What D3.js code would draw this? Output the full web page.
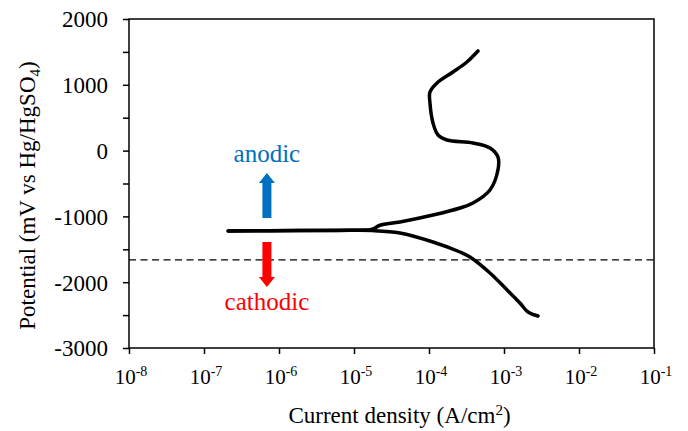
<!DOCTYPE html>
<html>
<head>
<meta charset="utf-8">
<script src="https://cdn.jsdelivr.net/npm/d3@7"></script>
<style>
    body { margin: 0; background: #fff; }
    text { font-family: 'Liberation Serif', 'Times New Roman', serif; fill: #000; }
</style>
</head>
<body>
<div class="chart"></div>
<script>
const width = 688;
const height = 431;
const margin = { top: 19, right: 34, bottom: 83, left: 129 };

/* data */
const xTicks = [1e-8, 1e-7, 1e-6, 1e-5, 1e-4, 1e-3, 1e-2, 1e-1];
const xExponents = ['-8', '-7', '-6', '-5', '-4', '-3', '-2', '-1'];
const yTicks = [2000, 1000, 0, -1000, -2000, -3000];
const yMinorTicks = [1500, 500, -500, -1500, -2500];

// anodic branch (current density A/cm2, potential mV)
const anodicI = [2.1e-7, 1.9e-6, 8.9e-6, 1.74e-5, 2.22e-5, 4.1e-5, 1.13e-4, 2.59e-4, 3.86e-4, 6.5e-4, 8.3e-4,
    8.3e-4, 6.5e-4, 3.86e-4, 1.74e-4, 1.32e-4, 1.13e-4, 1.03e-4, 1.03e-4, 1.28e-4, 2.09e-4, 3.2e-4, 4.5e-4];
const anodicE = [-1222, -1215, -1210, -1195, -1135, -1085, -979, -872, -796, -598, -295,
    -97, 40, 116, 161, 237, 420, 724, 891, 1028, 1195, 1347, 1514];
// cathodic branch
const cathodicI = [2.1e-7, 1.9e-6, 8.9e-6, 1.74e-5, 4.1e-5, 1.13e-4, 2.59e-4, 3.52e-4, 6.5e-4, 1.1e-3, 1.63e-3, 2.09e-3, 2.84e-3];
const cathodicE = [-1222, -1215, -1212, -1215, -1252, -1389, -1541, -1617, -1860, -2118, -2316, -2453, -2514];

const dashedE = -1660;
const arrowI = 6.9e-7;
const anodicArrow = [-1024, -340];
const cathodicArrow = [-1389, -2073];

const svg = d3.select('.chart').append('svg')
    .attr('width', width)
    .attr('height', height)
    .attr('viewBox', `0 0 ${width} ${height}`);

const innerW = width - margin.left - margin.right;
const innerH = height - margin.top - margin.bottom;

const xScale = d3.scaleLog().domain([1e-8, 1e-1]).range([0, innerW]);
const yScale = d3.scaleLinear().domain([-3000, 2000]).range([innerH, 0]);

const chart = svg.append('g')
    .attr('transform', `translate(${margin.left}, ${margin.top})`);

/*      frame       */
chart.append('rect')
    .attr('width', innerW)
    .attr('height', innerH)
    .attr('fill', 'none')
    .attr('stroke', '#000')
    .attr('stroke-width', 1.5);

/*      y-axis       */
const yAxis = chart.append('g')
    .attr('font-family', "'Liberation Serif', serif")
    .call(d3.axisLeft(yScale).tickValues(yTicks).tickSize(6).tickFormat(d => String(d)));
yAxis.select('.domain').remove();
yAxis.selectAll('line').attr('stroke-width', 1.5);
yAxis.selectAll('text')
    .attr('x', -21)
    .attr('dy', '0.34em')
    .style('font-size', '23px');
chart.append('g')
    .call(d3.axisLeft(yScale).tickValues(yMinorTicks).tickSize(6).tickFormat(''))
    .call(g => g.select('.domain').remove())
    .selectAll('line').attr('stroke-width', 1.5);

/*      x-axis       */
const xAxis = chart.append('g')
    .attr('transform', `translate(0, ${innerH})`)
    .call(d3.axisBottom(xScale).tickValues(xTicks).tickSize(6).tickFormat(''));
xAxis.select('.domain').remove();
xAxis.selectAll('line').attr('stroke-width', 1.5);

const xLabels = chart.append('g')
    .selectAll('text')
    .data(xTicks)
    .enter()
    .append('text')
    .attr('x', d => xScale(d) + 2)
    .attr('y', innerH + 36)
    .attr('text-anchor', 'middle')
    .style('font-size', '21px');
xLabels.append('tspan').text('10');
xLabels.append('tspan')
    .attr('dy', -8)
    .style('font-size', '14px')
    .text((d, i) => xExponents[i]);

/*      axis titles      */
const xTitle = svg.append('text')
    .attr('x', margin.left + innerW / 2 + 8)
    .attr('y', 423)
    .attr('text-anchor', 'middle')
    .style('font-size', '23px');
xTitle.append('tspan').text('Current density (A/cm');
xTitle.append('tspan').attr('dy', -8).style('font-size', '15px').text('2');
xTitle.append('tspan').attr('dy', 8).text(')');

const yTitle = svg.append('text')
    .attr('transform', `translate(35, ${margin.top + innerH / 2 + 12}) rotate(-90)`)
    .attr('text-anchor', 'middle')
    .style('font-size', '23px');
yTitle.append('tspan').text('Potential (mV vs Hg/HgSO');
yTitle.append('tspan').attr('dy', 5).style('font-size', '15px').text('4');
yTitle.append('tspan').attr('dy', -5).text(')');

/*      dashed line      */
chart.append('line')
    .attr('x1', 0)
    .attr('x2', innerW)
    .attr('y1', yScale(dashedE))
    .attr('y2', yScale(dashedE))
    .attr('stroke', '#000')
    .attr('stroke-width', 1.4)
    .attr('stroke-dasharray', '7,4.5');

/*      polarisation curve      */
const line = d3.line()
    .x(d => xScale(d[0]))
    .y(d => yScale(d[1]))
    .curve(d3.curveCatmullRom.alpha(0.5));

chart.append('path')
    .datum(anodicI.map((v, i) => [v, anodicE[i]]))
    .attr('d', line)
    .attr('fill', 'none')
    .attr('stroke', '#000')
    .attr('stroke-width', 3.5)
    .attr('stroke-linecap', 'round')
    .attr('stroke-linejoin', 'round');
chart.append('path')
    .datum(cathodicI.map((v, i) => [v, cathodicE[i]]))
    .attr('d', line)
    .attr('fill', 'none')
    .attr('stroke', '#000')
    .attr('stroke-width', 3.5)
    .attr('stroke-linecap', 'round')
    .attr('stroke-linejoin', 'round');

/*      arrows      */
function arrow(x, y0, y1, color) {
    const dir = y1 < y0 ? -1 : 1;
    const head = 10, shaft = 4.5, hw = 8;
    const yb = y1 - dir * head;
    const pts = [
        [x - shaft, y0], [x - shaft, yb], [x - hw, yb], [x, y1],
        [x + hw, yb], [x + shaft, yb], [x + shaft, y0]
    ];
    chart.append('polygon')
        .attr('points', pts.map(p => p.join(',')).join(' '))
        .attr('fill', color);
}
arrow(xScale(arrowI), yScale(anodicArrow[0]), yScale(anodicArrow[1]), '#0070C0');
arrow(xScale(arrowI), yScale(cathodicArrow[0]), yScale(cathodicArrow[1]), '#FF0000');

chart.append('text')
    .attr('x', xScale(arrowI))
    .attr('y', yScale(-173))
    .attr('text-anchor', 'middle')
    .style('font-size', '25px')
    .style('fill', '#0070C0')
    .text('anodic');
chart.append('text')
    .attr('x', xScale(arrowI))
    .attr('y', yScale(-2422))
    .attr('text-anchor', 'middle')
    .style('font-size', '25px')
    .style('fill', '#FF0000')
    .text('cathodic');
</script>
</body>
</html>
